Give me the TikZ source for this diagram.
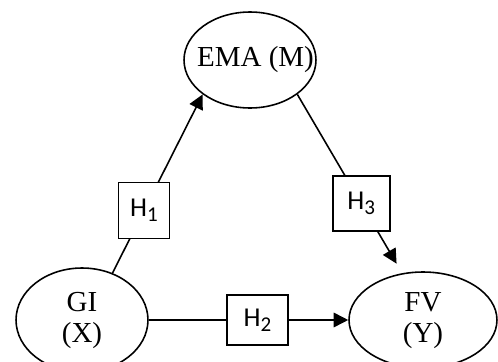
\documentclass[tikz,border=0pt]{standalone}
\usepackage{fontspec}
\setmainfont{Liberation Serif}
\newfontfamily\hfont{Carlito}
\usetikzlibrary{arrows.meta}
\usetikzlibrary{shapes.geometric}

\newcommand{\hyp}[1]{{\hfont\fontsize{15.5}{15.5}\selectfont H\raisebox{-2.6pt}{\fontsize{12}{12}\selectfont #1}}}

\tikzset{
  var/.style={draw,ellipse,inner sep=0pt,line width=0.9pt,align=center,font=\fontsize{16.5}{17.5}\selectfont},
  hbox/.style={draw,rectangle,fill=white,inner sep=0pt,line width=0.9pt},
  arr/.style={line width=0.9pt,-{Triangle[length=0.29cm,width=0.29cm]}}
}

\begin{document}
\begin{tikzpicture}[x=0.02cm,y=-0.02cm]
\useasboundingbox (0,0) rectangle (498,362);
\node[var,minimum width=2.64cm,minimum height=1.92cm] (ema) at (250,60) {\makebox[0pt]{\hspace{0.22cm}EMA (M)}};
\node[var,minimum width=2.64cm,minimum height=2.08cm,text depth=3pt] (gi) at (82,320) {GI\\(X)};
\node[var,minimum width=2.96cm,minimum height=1.92cm,text depth=3pt] (fv) at (423,320) {FV\\(Y)};

\draw[arr] (gi.57) -- node[hbox,pos=0.35,minimum width=1.02cm,minimum height=1.12cm] (h1) {\hyp{1}} (ema.216);
\draw[arr,shorten >=0.22cm] (ema.324) -- node[hbox,pos=0.61,minimum width=1.14cm,minimum height=1.1cm] (h3) {\hyp{3}} (fv.114);
\draw[arr] (gi.east) -- node[hbox,pos=0.545,minimum width=1.22cm,minimum height=1cm] (h2) {\hyp{2}} (fv.west);

\end{tikzpicture}
\end{document}
